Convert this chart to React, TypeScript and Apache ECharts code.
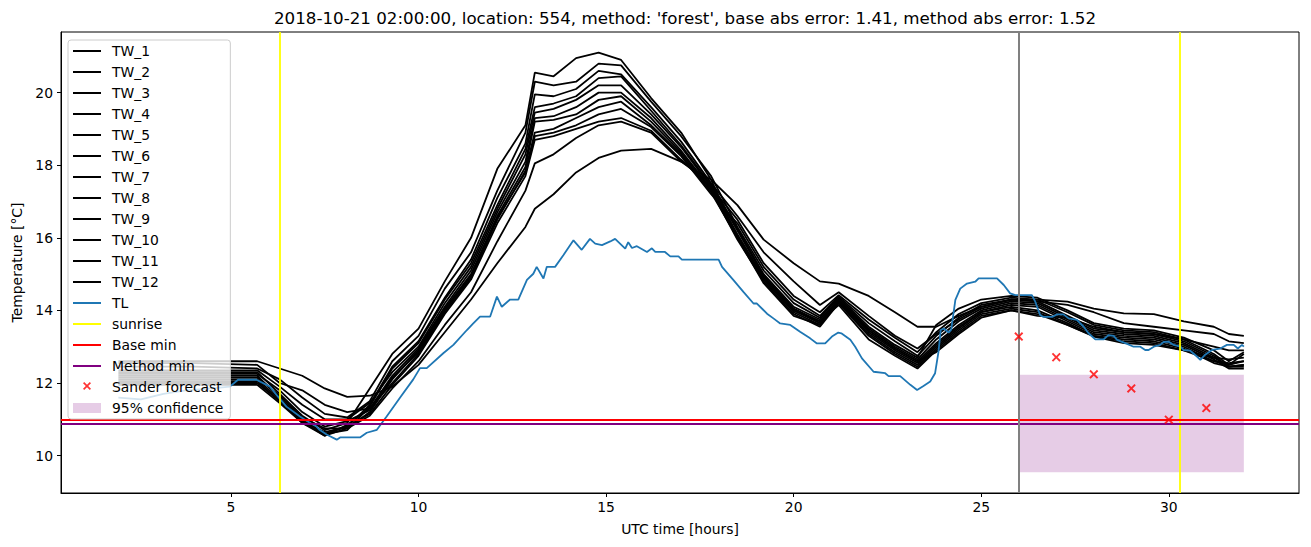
import React, { useEffect, useRef } from "react";
import * as echarts from "echarts";

const TITLE = "2018-10-21 02:00:00, location: 554, method: 'forest', base abs error: 1.41, method abs error: 1.52";
const FONT = "DejaVu Sans";

const TW_TIMES = [2, 4, 5.7, 6.3, 6.9, 7.5, 8.1, 8.7, 9.3, 10, 10.7, 11.4, 12.1, 12.85, 13.1, 13.6, 14.2, 14.8, 15.4, 16.2, 17, 17.8, 18.5, 19.2, 20, 20.7, 21.2, 22, 22.7, 23.3, 23.8, 24.4, 25, 25.8, 26.5, 27.3, 28, 28.8, 29.6, 30.4, 31.2, 31.6, 32];

const TW_1 = [12.3, 12.3, 12.3, 11.7, 11.1, 10.7, 10.9, 11.85, 12.8, 13.5, 14.8, 16.0, 17.9, 19.1, 20.55, 20.45, 20.95, 21.1, 20.9, 19.85, 18.9, 17.6, 16.0, 14.75, 13.85, 13.6, 14.3, 13.45, 12.95, 12.6, 12.85, 13.35, 13.8, 14.0, 13.85, 13.8, 13.55, 13.4, 13.35, 13.2, 13.0, 12.9, 12.9];
const TW_2 = [12.45, 12.45, 12.4, 12.1, 11.6, 11.15, 11.05, 11.5, 12.6, 13.3, 14.6, 15.6, 17.3, 18.9, 20.3, 20.2, 20.3, 20.8, 20.75, 19.75, 18.8, 17.7, 16.3, 15.1, 14.2, 13.8, 14.35, 13.55, 13.05, 12.7, 13.6, 14.05, 14.3, 14.4, 14.35, 14.0, 13.65, 13.5, 13.45, 13.25, 12.9, 12.6, 12.85];
const TW_3 = [12.2, 12.2, 12.2, 11.6, 11.0, 10.6, 10.8, 11.4, 12.45, 13.15, 14.35, 15.4, 17.1, 18.6, 19.95, 19.9, 20.1, 20.6, 20.5, 19.6, 18.65, 17.5, 16.25, 15.0, 14.1, 13.75, 14.3, 13.5, 13.0, 12.65, 13.2, 13.7, 14.05, 14.25, 14.2, 13.8, 13.45, 13.35, 13.3, 13.1, 12.7, 12.45, 12.45];
const TW_4 = [12.0, 12.0, 12.0, 11.5, 10.9, 10.6, 10.7, 11.35, 12.4, 13.1, 14.3, 15.3, 16.9, 18.45, 19.6, 19.7, 19.9, 20.4, 20.45, 19.5, 18.55, 17.45, 16.2, 14.95, 14.05, 13.7, 14.28, 13.45, 12.95, 12.6, 13.1, 13.6, 14.0, 14.2, 14.15, 13.75, 13.4, 13.3, 13.25, 13.05, 12.65, 12.4, 12.4];
const TW_5 = [12.35, 12.35, 12.35, 11.9, 11.4, 11.0, 11.0, 11.45, 12.3, 13.0, 14.2, 15.2, 16.8, 18.3, 19.45, 19.55, 19.8, 20.2, 20.2, 19.4, 18.5, 17.4, 16.1, 14.9, 14.0, 13.65, 14.25, 13.4, 12.9, 12.55, 13.05, 13.55, 13.95, 14.15, 14.1, 13.7, 13.35, 13.25, 13.2, 13.0, 12.6, 12.5, 12.8];
const TW_6 = [12.1, 12.1, 12.1, 11.55, 10.95, 10.55, 10.85, 11.3, 12.2, 12.95, 14.1, 15.1, 16.7, 18.1, 19.3, 19.35, 19.6, 20.0, 20.0, 19.3, 18.4, 17.35, 16.05, 14.85, 13.95, 13.6, 14.22, 13.35, 12.85, 12.5, 13.0, 13.5, 13.95, 14.1, 14.0, 13.65, 13.3, 13.2, 13.15, 12.95, 12.55, 12.45, 12.5];
const TW_7 = [11.95, 11.95, 11.95, 11.45, 10.9, 10.55, 10.75, 11.2, 12.1, 12.9, 14.05, 15.0, 16.6, 17.95, 19.2, 19.25, 19.4, 19.8, 19.9, 19.2, 18.35, 17.3, 15.95, 14.8, 13.9, 13.55, 14.2, 13.3, 12.8, 12.45, 12.95, 13.45, 13.9, 14.05, 13.95, 13.6, 13.3, 13.15, 13.1, 12.9, 12.6, 12.55, 12.6];
const TW_8 = [12.55, 12.55, 12.5, 12.0, 11.8, 11.4, 11.2, 11.3, 12.0, 12.8, 13.95, 14.9, 16.5, 17.85, 18.9, 19.0, 19.3, 19.6, 19.75, 19.1, 18.3, 17.25, 16.0, 14.9, 14.0, 13.7, 14.15, 13.2, 12.75, 12.4, 12.9, 13.4, 13.85, 14.0, 13.9, 13.6, 13.28, 13.1, 13.05, 12.9, 12.7, 12.65, 12.7];
const TW_9 = [12.25, 12.25, 12.25, 11.8, 11.2, 10.8, 10.95, 11.25, 12.15, 12.85, 14.0, 14.95, 16.55, 17.8, 18.8, 18.9, 19.1, 19.4, 19.55, 19.05, 18.25, 17.2, 16.4, 15.2, 14.3, 13.85, 14.38, 13.65, 13.15, 12.75, 13.3, 13.8, 14.15, 14.3, 14.25, 13.85, 13.5, 13.4, 13.35, 13.15, 12.75, 12.45, 12.5];
const TW_10 = [12.05, 12.05, 12.05, 11.5, 10.95, 10.65, 10.8, 11.15, 11.95, 12.75, 13.9, 14.85, 16.4, 17.7, 18.7, 18.8, 19.0, 19.2, 19.3, 18.95, 18.15, 17.4, 16.5, 15.3, 14.4, 13.95, 14.42, 13.75, 13.25, 12.85, 13.4, 13.9, 14.2, 14.35, 14.3, 13.95, 13.6, 13.45, 13.4, 13.2, 12.8, 12.5, 12.6];
const TW_11 = [12.15, 12.15, 12.15, 11.65, 11.05, 10.75, 10.75, 11.1, 11.85, 12.6, 13.6, 14.5, 15.9, 17.3, 18.05, 18.3, 18.75, 19.1, 19.2, 18.9, 18.1, 17.5, 16.6, 15.6, 14.8, 14.15, 14.5, 13.85, 13.3, 12.95, 13.35, 13.75, 14.1, 14.3, 14.25, 14.15, 13.95, 13.65, 13.55, 13.45, 13.35, 13.15, 13.1];
const TW_12 = [12.6, 12.6, 12.6, 12.4, 12.2, 11.85, 11.62, 11.65, 11.9, 12.5, 13.4, 14.3, 15.3, 16.3, 16.8, 17.2, 17.8, 18.2, 18.4, 18.45, 18.1, 17.6, 16.9, 15.95, 15.3, 14.8, 14.74, 14.4, 13.95, 13.55, 13.55, 13.85, 14.1, 14.3, 14.3, 14.24, 14.05, 13.92, 13.9, 13.7, 13.55, 13.35, 13.3];

const TW_NAMES = ["TW_1", "TW_2", "TW_3", "TW_4", "TW_5", "TW_6", "TW_7", "TW_8", "TW_9", "TW_10", "TW_11", "TW_12"];
const TW_VALUES = [TW_1, TW_2, TW_3, TW_4, TW_5, TW_6, TW_7, TW_8, TW_9, TW_10, TW_11, TW_12];

const TL_POINTS = [
  [2, 11.6], [2.6, 11.55], [3.2, 11.7], [3.8, 11.8], [4.5, 11.85], [4.97, 11.9], [5.19, 12.09], [5.68, 12.09],
  [6.04, 11.9], [6.25, 11.63], [6.48, 11.35], [6.84, 11.08], [7.11, 10.9], [7.28, 10.8], [7.35, 10.72], [7.55, 10.58],
  [7.82, 10.44], [7.91, 10.5], [8.44, 10.5], [8.62, 10.63], [8.89, 10.71], [9.15, 11.08], [9.51, 11.6], [9.86, 12.1],
  [10.04, 12.41], [10.22, 12.41], [10.66, 12.82], [10.93, 13.05], [11.29, 13.46], [11.46, 13.64], [11.64, 13.83],
  [11.91, 13.83], [12.09, 14.38], [12.22, 14.1], [12.44, 14.3], [12.66, 14.3], [12.89, 14.84], [13.06, 15.01],
  [13.15, 15.2], [13.33, 14.88], [13.42, 15.2], [13.64, 15.2], [13.86, 15.52], [14.13, 15.93], [14.35, 15.67],
  [14.57, 15.97], [14.71, 15.84], [14.89, 15.8], [15.11, 15.9], [15.24, 15.97], [15.51, 15.7], [15.59, 15.88],
  [15.69, 15.72], [15.82, 15.77], [16.09, 15.61], [16.22, 15.71], [16.31, 15.61], [16.57, 15.61], [16.71, 15.49],
  [16.93, 15.49], [17.02, 15.4], [18.0, 15.4], [18.09, 15.2], [18.39, 14.84], [18.66, 14.51], [18.93, 14.19],
  [19.02, 14.19], [19.29, 13.91], [19.46, 13.78], [19.64, 13.64], [19.91, 13.6], [20.17, 13.41], [20.44, 13.23],
  [20.62, 13.09], [20.84, 13.09], [21.02, 13.28], [21.19, 13.39], [21.27, 13.37], [21.51, 13.19], [21.64, 13.0],
  [21.82, 12.68], [22.13, 12.31], [22.44, 12.27], [22.53, 12.19], [22.84, 12.19], [23.11, 11.95], [23.29, 11.81],
  [23.46, 11.92], [23.64, 12.04], [23.77, 12.27], [23.86, 12.86], [23.92, 13.46], [24.0, 13.5], [24.13, 13.39],
  [24.2, 13.47], [24.31, 14.29], [24.44, 14.6], [24.62, 14.74], [24.84, 14.79], [24.93, 14.88], [25.42, 14.88],
  [25.6, 14.7], [25.77, 14.47], [25.91, 14.42], [26.35, 14.42], [26.44, 14.24], [26.57, 13.87], [26.66, 13.82],
  [26.89, 13.82], [27.02, 13.89], [27.19, 13.89], [27.33, 13.78], [27.55, 13.74], [27.73, 13.55], [27.86, 13.37],
  [28.04, 13.2], [28.26, 13.2], [28.39, 13.32], [28.53, 13.3], [28.62, 13.19], [28.89, 13.08], [29.06, 13.0],
  [29.24, 13.0], [29.37, 12.91], [29.46, 12.91], [29.6, 13.0], [29.77, 13.05], [29.86, 13.13], [29.99, 13.14],
  [30.13, 13.05], [30.31, 13.0], [30.39, 12.91], [30.57, 12.89], [30.75, 12.73], [30.84, 12.64], [30.97, 12.78],
  [31.15, 12.91], [31.37, 12.95], [31.55, 13.05], [31.73, 13.05], [31.84, 12.95], [31.95, 13.05], [32.0, 13.0],
];

const SUNRISE_TIMES = [6.3, 30.3];
const BASE_MIN = 10.99;
const METHOD_MIN = 10.88;
const NOW_TIME = 26;
const SANDER_TIMES = [26, 27, 28, 29, 30, 31];
const SANDER_VALUES = [13.28, 12.71, 12.24, 11.85, 10.99, 11.31];
const CONF_X = [26, 32];
const CONF_Y = [9.54, 12.23];

const X_TICKS = [5, 10, 15, 20, 25, 30];
const Y_TICKS = [10, 12, 14, 16, 18, 20];

const X_SYMBOL = "path://M0,1.5L1.5,0L5,3.5L8.5,0L10,1.5L6.5,5L10,8.5L8.5,10L5,6.5L1.5,10L0,8.5L3.5,5Z";
const X_LEGEND_ICON =
  "path://M0,0L0.01,0L0,0.01ZM28,10L27.99,10L28,9.99ZM10,1.2L11.2,0L14,2.8L16.8,0L18,1.2L15.2,4L18,6.8L16.8,8L14,5.2L11.2,8L10,6.8L12.8,4Z";
const LINE_ICON = "path://M0,0L28,0L28,2L0,2Z";

export default function App() {
  const ref = useRef<HTMLDivElement>(null);
  useEffect(() => {
    if (!ref.current) return;
    const chart = echarts.init(ref.current, undefined, { renderer: "svg" });
    const textBase = { fontFamily: FONT, color: "#000", fontSize: 13.9 };

    const twSeries = TW_NAMES.map((name, k) => ({
      name,
      type: "line",
      data: TW_TIMES.map((t, i) => [t, TW_VALUES[k][i]]),
      symbol: "none",
      lineStyle: { color: "#000", width: 1.8 },
      itemStyle: { color: "#000" },
      z: 3,
    }));

    const lineNames = [...TW_NAMES, "TL", "sunrise", "Base min", "Method min"];

    const option: any = {
      animation: false,
      backgroundColor: "#fff",
      title: {
        text: TITLE,
        left: 680,
        top: 4,
        textAlign: "center",
        textStyle: { fontFamily: FONT, fontSize: 16.7, fontWeight: "normal", color: "#000" },
      },
      grid: {
        left: 61,
        right: 12,
        top: 32,
        bottom: 54,
        show: true,
        borderColor: "#000",
        borderWidth: 1,
        backgroundColor: "transparent",
      },
      xAxis: {
        type: "value",
        min: 0.47,
        max: 33.47,
        name: "UTC time [hours]",
        nameLocation: "middle",
        nameGap: 29,
        nameTextStyle: textBase,
        splitLine: { show: false },
        axisLine: { show: true, onZero: false, lineStyle: { color: "#000", width: 1 } },
        axisTick: { show: true, length: 4, lineStyle: { color: "#000" }, customValues: X_TICKS },
        axisLabel: { ...textBase, margin: 7, customValues: X_TICKS },
      },
      yAxis: {
        type: "value",
        min: 8.97,
        max: 21.67,
        name: "Temperature [°C]",
        nameLocation: "middle",
        nameGap: 36,
        nameRotate: 90,
        nameTextStyle: textBase,
        splitLine: { show: false },
        axisLine: { show: true, onZero: false, lineStyle: { color: "#000", width: 1 } },
        axisTick: { show: true, length: 4, lineStyle: { color: "#000" }, customValues: Y_TICKS },
        axisLabel: { ...textBase, margin: 8, customValues: Y_TICKS },
      },
      legend: {
        orient: "vertical",
        left: 68,
        top: 40,
        itemWidth: 28,
        itemHeight: 10,
        itemGap: 7,
        padding: [4, 7, 4, 5],
        backgroundColor: "rgba(255,255,255,0.8)",
        borderColor: "#cccccc",
        borderWidth: 1,
        borderRadius: 3,
        selectedMode: false,
        textStyle: { ...textBase, padding: [0, 0, 0, 6], lineHeight: 14 },
        z: 20,
        data: [
          ...lineNames.map((name) => ({ name, icon: LINE_ICON })),
          { name: "Sander forecast", icon: X_LEGEND_ICON },
          { name: "95% confidence", icon: "rect" },
        ],
      },
      series: [
        {
          name: "95% confidence",
          type: "custom",
          z: 1,
          itemStyle: { color: "rgba(128,0,128,0.2)" },
          encode: { x: [0, 1], y: [2, 3] },
          data: [[CONF_X[0], CONF_X[1], CONF_Y[0], CONF_Y[1]]],
          renderItem: (params: any, api: any) => {
            const p1 = api.coord([api.value(0), api.value(3)]);
            const p2 = api.coord([api.value(1), api.value(2)]);
            return {
              type: "rect",
              shape: { x: p1[0], y: p1[1], width: p2[0] - p1[0], height: p2[1] - p1[1] },
              style: { fill: "rgba(128,0,128,0.2)" },
            };
          },
        },
        ...twSeries,
        {
          name: "TL",
          type: "line",
          data: TL_POINTS,
          symbol: "none",
          lineStyle: { color: "#1f77b4", width: 1.8 },
          itemStyle: { color: "#1f77b4" },
          z: 4,
        },
        {
          name: "sunrise",
          type: "line",
          data: [],
          symbol: "none",
          lineStyle: { color: "#ffff00", width: 1.8 },
          itemStyle: { color: "#ffff00" },
          z: 5,
          markLine: {
            silent: true,
            symbol: "none",
            label: { show: false },
            lineStyle: { color: "#ffff00", width: 1.8, type: "solid" },
            data: SUNRISE_TIMES.map((t) => ({ xAxis: t })),
          },
        },
        {
          name: "Base min",
          type: "line",
          data: [],
          symbol: "none",
          lineStyle: { color: "#ff0000", width: 2 },
          itemStyle: { color: "#ff0000" },
          z: 5,
          markLine: {
            silent: true,
            symbol: "none",
            label: { show: false },
            lineStyle: { color: "#ff0000", width: 2, type: "solid" },
            data: [{ yAxis: BASE_MIN }],
          },
        },
        {
          name: "Method min",
          type: "line",
          data: [],
          symbol: "none",
          lineStyle: { color: "#800080", width: 2 },
          itemStyle: { color: "#800080" },
          z: 5,
          markLine: {
            silent: true,
            symbol: "none",
            label: { show: false },
            lineStyle: { color: "#800080", width: 2, type: "solid" },
            data: [{ yAxis: METHOD_MIN }],
          },
        },
        {
          name: "now",
          type: "line",
          data: [],
          symbol: "none",
          z: 5,
          markLine: {
            silent: true,
            symbol: "none",
            label: { show: false },
            lineStyle: { color: "#808080", width: 2, type: "solid" },
            data: [{ xAxis: NOW_TIME }],
          },
        },
        {
          name: "Sander forecast",
          type: "scatter",
          symbol: X_SYMBOL,
          symbolSize: 9,
          itemStyle: { color: "#ff0000" },
          data: SANDER_TIMES.map((t, i) => [t, SANDER_VALUES[i]]),
          z: 6,
        },
      ],
    };
    chart.setOption(option);
    return () => chart.dispose();
  }, []);
  return (
    <div
      ref={ref}
      style={{ position: "fixed", left: 0, top: 0, width: 1311, height: 547, background: "#fff" }}
    />
  );
}
